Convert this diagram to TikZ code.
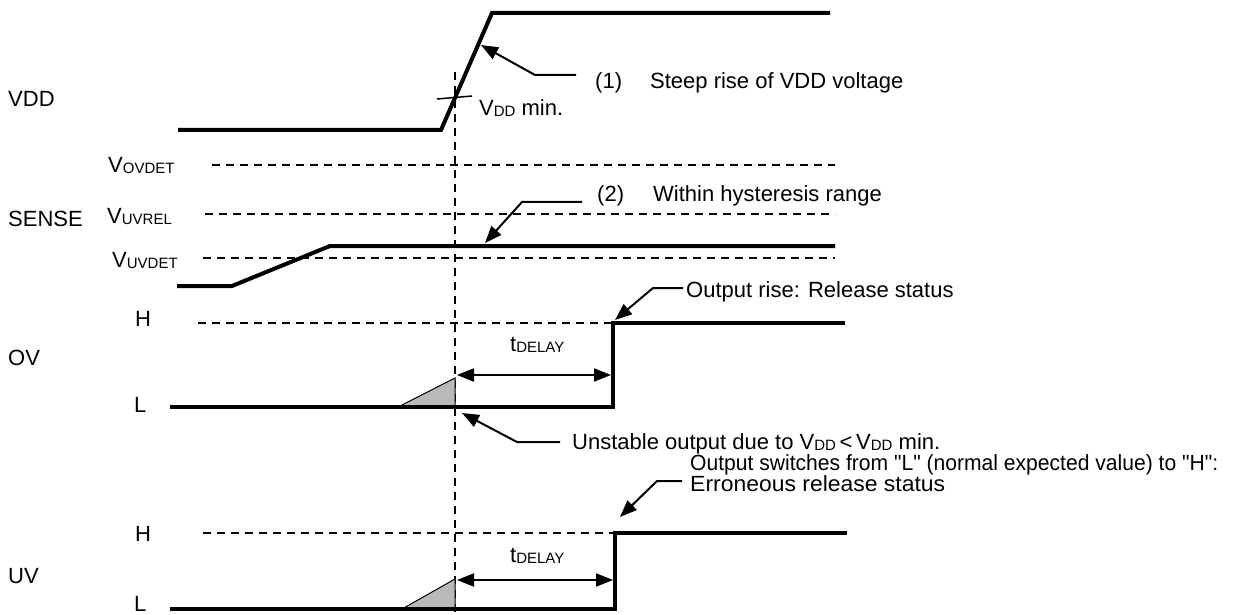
\documentclass[tikz,border=0pt]{standalone}
\usepackage{fontspec}
\setmainfont{Liberation Sans}
\usetikzlibrary{arrows.meta}
\newcommand\sbs[1]{\raisebox{-1pt}{\fontsize{15}{15}\selectfont #1}}
\newcommand\dq{\XeTeXglyph\XeTeXcharglyph"22\relax}
\begin{document}
\begin{tikzpicture}[x=1pt,y=-1pt,
  sig/.style={line width=4pt},
  refl/.style={line width=1.5pt, dash pattern=on 8pt off 6pt},
  lead/.style={line width=2pt},
  arr/.style={lead,-{Triangle[length=17pt,width=13pt]}},
  darr/.style={lead,{Triangle[length=17pt,width=13pt]}-{Triangle[length=17pt,width=13pt]}},
  lbl/.style={anchor=base west, inner sep=0pt, font=\fontsize{22}{26}\selectfont},
  unst/.style={fill=gray!55, draw, line width=1pt},
]
\useasboundingbox (0,0) rectangle (1251,615);

% ---- row labels
\node[lbl] (lvdd) at (8,107) {VDD};
\node[lbl] (lsense) at (8,226) {SENSE};
\node[lbl] (lov) at (8,365) {OV};
\node[lbl] (luv) at (8,583) {UV};
\node[lbl] (lovh) at (135,326) {H};
\node[lbl] (lovl) at (134,412) {L};
\node[lbl] (luvh) at (135,541) {H};
\node[lbl] (luvl) at (134,611) {L};
\node[lbl] (lovdet) at (108,173) {V\sbs{OVDET}};
\node[lbl] (luvrel) at (107,223) {V\sbs{UVREL}};
\node[lbl] (luvdet) at (112,267) {V\sbs{UVDET}};

% ---- reference (dashed) lines
\coordinate (vt) at (455,72);
\coordinate (vb) at (455,615);
\draw[refl] (vt) -- (vb);
\coordinate (ov1) at (212,165); \coordinate (ov2) at (835,165);
\draw[refl] (ov1) -- (ov2);
\coordinate (ur1) at (205,214); \coordinate (ur2) at (835,214);
\draw[refl] (ur1) -- (ur2);
\coordinate (ud1) at (203,258); \coordinate (ud2) at (835,258);
\draw[refl] (ud1) -- (ud2);
\coordinate (oh1) at (198,323); \coordinate (oh2) at (613,323);
\draw[refl] (oh1) -- (oh2);
\coordinate (uh1) at (203,533); \coordinate (uh2) at (615,533);
\draw[refl] (uh1) -- (uh2);

% ---- VDD
\coordinate (d0) at (178,130); \coordinate (d1) at (441,130);
\coordinate (d2) at (492,13); \coordinate (d3) at (830,13);
\draw[sig] (d0) -- (d1) -- (d2) -- (d3);
\coordinate (tk1) at (437,99); \coordinate (tk2) at (472,96);
\draw[lead, line width=1.5pt] (tk1) -- (tk2);
\node[lbl] (vddmin) at (479,116) {V\sbs{DD} min.};

% annotation (1)
\coordinate (a1t) at (481,45); \coordinate (a1k) at (535,75); \coordinate (a1e) at (576,75);
\draw[arr] (a1e) -- (a1k) -- (a1t);
\node[lbl] (n1) at (595,89) {(1)};
\node[lbl] (t1) at (650,89) {Steep rise of VDD voltage};

% ---- SENSE
\coordinate (s0) at (177,286); \coordinate (s1) at (232,286);
\coordinate (s2) at (330,246); \coordinate (s3) at (835,246);
\draw[sig] (s0) -- (s1) -- (s2) -- (s3);
\coordinate (a2t) at (485,243); \coordinate (a2k) at (522,202); \coordinate (a2e) at (582,202);
\draw[arr] (a2e) -- (a2k) -- (a2t);
\node[lbl] (n2) at (597,201) {(2)};
\node[lbl] (t2) at (653,201) {Within hysteresis range};

% ---- OV
\coordinate (ot1) at (398,407); \coordinate (ot2) at (455,378); \coordinate (ot3) at (455,407);
\filldraw[unst] (ot1) -- (ot2) -- (ot3) -- cycle;
\coordinate (o0) at (170,407); \coordinate (o1) at (613,407);
\coordinate (o2) at (613,323); \coordinate (o3) at (845,323);
\draw[sig] (o0) -- (o1) -- (o2) -- (o3);
\coordinate (od1) at (457,375); \coordinate (od2) at (611,375);
\draw[darr] (od1) -- (od2);
\node[lbl] (otd) at (510,351) {t\sbs{DELAY}};
\coordinate (art) at (615,320); \coordinate (ark) at (653,288); \coordinate (are) at (683,288);
\draw[arr] (are) -- (ark) -- (art);
\node[lbl] (trel) at (686,297) {Output rise: Release status};
\coordinate (aut) at (462,413); \coordinate (auk) at (517,442); \coordinate (aue) at (560,442);
\draw[arr] (aue) -- (auk) -- (aut);
\node[lbl] (tuns) at (572,449) {Unstable output due to V\sbs{DD}\,<\,V\sbs{DD} min.};

% ---- UV
\coordinate (ut1) at (402,609); \coordinate (ut2) at (455,579); \coordinate (ut3) at (455,609);
\filldraw[unst] (ut1) -- (ut2) -- (ut3) -- cycle;
\coordinate (u0) at (170,609); \coordinate (u1) at (615,609);
\coordinate (u2) at (615,533); \coordinate (u3) at (847,533);
\draw[sig] (u0) -- (u1) -- (u2) -- (u3);
\coordinate (ud1a) at (457,580); \coordinate (ud2a) at (613,580);
\draw[darr] (ud1a) -- (ud2a);
\node[lbl] (utd) at (510,562) {t\sbs{DELAY}};
\coordinate (aet) at (620,517); \coordinate (aek) at (657,481); \coordinate (aee) at (682,481);
\draw[arr] (aee) -- (aek) -- (aet);
\node[lbl] (tsw) at (690,470) {\resizebox{528pt}{\height}{Output switches from \dq L\dq\ (normal expected value) to \dq H\dq :}};
\node[lbl] (terr) at (690,491) {\resizebox{255pt}{\height}{Erroneous release status}};
\end{tikzpicture}
\end{document}
